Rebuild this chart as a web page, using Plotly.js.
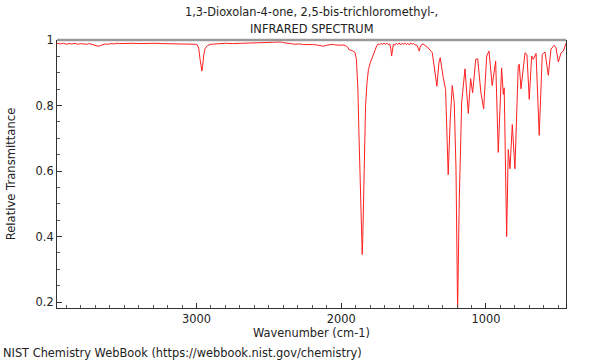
<!DOCTYPE html>
<html>
<head>
<meta charset="utf-8">
<script src="https://cdn.plot.ly/plotly-3.0.1.min.js"></script>
<style>html,body{margin:0;padding:0;background:#fff}#chart{width:600px;height:360px}</style>
</head>
<body>
<div id="chart"></div>
<script>
// Wavenumber (cm-1)
const wavenumber = [
 3964,3940,3920,3900,3880,3860,3840,3820,3800,3780,3760,3740,3720,3700,3680,3665,3650,3630,3610,3590,
 3570,3550,3530,3500,3470,3440,3400,3360,3320,3280,3240,3200,3160,3120,3080,3040,3010,2995,2985,2975,
 2968,2963,2958,2950,2940,2925,2900,2880,2850,2800,2750,2700,2650,2600,2550,2500,2450,2420,2400,2380,
 2350,2320,2290,2260,2230,2200,2170,2150,2125,2100,2080,2060,2040,2020,2009,1990,1970,1955,1945,1925,
 1905,1895,1885,1878,1866,1858,1855,1851,1845,1840,1832,1822,1812,1800,1790,1778,1767,1755,1745,1735,
 1725,1715,1705,1695,1685,1675,1665,1658,1652,1646,1640,1630,1620,1610,1600,1590,1580,1570,1560,1550,
 1540,1530,1520,1510,1500,1490,1478,1468,1461,1455,1445,1435,1422,1399,1371,1346,1339,1325,1316,1295,
 1279,1261,1247,1233,1219,1207,1196,1185,1168,1145,1122,1106,1092,1071,1057,1035,1016,995,979,957,
 933,915,892,880,874,857,846,834,818,800,777,770,758,730,717,701,684,673,654,632,
 611,592,569,551,528,516,500,481,465,447
];
// Relative transmittance
const transmittance = [
 0.990,0.988,0.990,0.987,0.989,0.988,0.990,0.987,0.989,0.988,0.987,0.989,0.986,0.984,0.981,0.983,0.986,0.988,0.987,0.989,
 0.988,0.990,0.989,0.990,0.989,0.990,0.989,0.990,0.989,0.990,0.989,0.989,0.988,0.989,0.988,0.988,0.987,0.985,0.975,0.940,
 0.910,0.905,0.920,0.955,0.975,0.983,0.987,0.988,0.989,0.990,0.989,0.990,0.991,0.991,0.992,0.993,0.994,0.994,0.992,0.990,
 0.989,0.987,0.988,0.986,0.987,0.986,0.985,0.983,0.981,0.984,0.986,0.987,0.985,0.984,0.984,0.985,0.983,0.978,0.970,0.968,
 0.962,0.940,0.850,0.720,0.520,0.380,0.345,0.400,0.560,0.680,0.800,0.870,0.910,0.930,0.942,0.958,0.972,0.982,0.988,0.985,
 0.990,0.986,0.991,0.987,0.990,0.986,0.988,0.975,0.951,0.975,0.987,0.984,0.990,0.986,0.991,0.985,0.990,0.987,0.991,0.986,
 0.990,0.985,0.991,0.987,0.989,0.985,0.984,0.975,0.966,0.978,0.986,0.988,0.984,0.976,0.961,0.880,0.859,0.931,0.946,0.885,
 0.849,0.589,0.757,0.861,0.808,0.605,0.170,0.500,0.808,0.912,0.776,0.882,0.839,0.941,0.943,0.839,0.790,0.951,0.966,0.861,
 0.936,0.657,0.915,0.834,0.854,0.400,0.666,0.607,0.742,0.607,0.920,0.926,0.851,0.961,0.956,0.819,0.951,0.941,0.959,0.709,
 0.956,0.963,0.892,0.972,0.984,0.976,0.933,0.961,0.966,0.990
];
const yTickVals = [0.2, 0.4, 0.6, 0.8, 1];
const yTickText = ['0.2', '0.4', '0.6', '0.8', '1'];
const xTickVals = [1000, 2000, 3000];
const xTickText = ['1000', '2000', '3000'];

const font = {family: 'DejaVu Sans, sans-serif', size: 11.4, color: '#222'};

const trace = {
  x: wavenumber, y: transmittance, type: 'scatter', mode: 'lines',
  line: {color: '#ff2020', width: 1}, hoverinfo: 'skip', showlegend: false
};

const layout = {
  width: 600, height: 360,
  margin: {l: 57, r: 34, t: 40, b: 52},
  paper_bgcolor: '#fff', plot_bgcolor: '#fff',
  font: font,
  xaxis: {
    range: [3964, 447], autorange: false,
    tickvals: xTickVals, ticktext: xTickText,
    ticks: 'inside', ticklen: 5, tickcolor: '#333', tickwidth: 1,
    minor: {dtick: 100, tick0: 0, ticks: 'inside', ticklen: 3, tickcolor: '#555', showgrid: false},
    showline: true, linecolor: '#333', linewidth: 1, mirror: false,
    showgrid: false, zeroline: false,
    tickfont: font,
    title: {text: 'Wavenumber (cm-1)', font: font, standoff: 3}
  },
  yaxis: {
    range: [0.182, 1.0], autorange: false,
    tickvals: yTickVals, ticktext: yTickText,
    ticks: 'inside', ticklen: 5, tickcolor: '#333', tickwidth: 1,
    minor: {dtick: 0.05, tick0: 0, ticks: 'inside', ticklen: 3, tickcolor: '#555', showgrid: false},
    showline: true, linecolor: '#333', linewidth: 1, mirror: true,
    showgrid: false, zeroline: false,
    tickfont: font,
    title: {text: 'Relative Transmittance', font: {family: font.family, size: 11.6, color: '#222'}, standoff: 17}
  },
  shapes: [{type: 'line', xref: 'paper', yref: 'paper', x0: 0, x1: 1, y0: 1, y1: 1,
            line: {color: '#9a9a9a', width: 2.5}}],
  annotations: [
    {text: '1,3-Dioxolan-4-one, 2,5-bis-trichloromethyl-,',
     xref: 'paper', yref: 'paper', x: 0.5, y: 1.1045, xanchor: 'center', yanchor: 'middle',
     showarrow: false, font: font},
    {text: 'INFRARED SPECTRUM',
     xref: 'paper', yref: 'paper', x: 0.5, y: 1.041, xanchor: 'center', yanchor: 'middle',
     showarrow: false, font: font},
    {text: 'NIST Chemistry WebBook (https://webbook.nist.gov/chemistry)',
     xref: 'paper', yref: 'paper', x: -0.11, y: -0.168, xanchor: 'left', yanchor: 'middle',
     showarrow: false, font: font}
  ]
};

Plotly.newPlot('chart', [trace], layout, {staticPlot: true, displayModeBar: false});
</script>
</body>
</html>
